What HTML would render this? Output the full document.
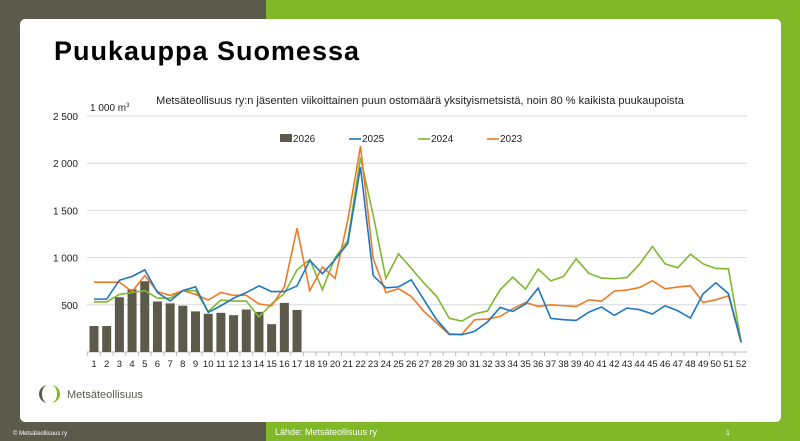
<!DOCTYPE html>
<html><head><meta charset="utf-8"><style>
body{margin:0;width:800px;height:441px;overflow:hidden;position:relative;font-family:"Liberation Sans",sans-serif;background:#5b5a4b}
#g{position:absolute;left:266px;top:0;width:534px;height:441px;background:#80b828}
#card{position:absolute;left:20px;top:19px;width:761px;height:403px;background:#fff;border-radius:5px}
svg{position:absolute;left:0;top:0}
</style></head><body>
<div id="g"></div><div id="card"></div>
<svg width="800" height="441" id="s" font-family="Liberation Sans, sans-serif">
<text x="54" y="60" font-size="27" font-weight="800" textLength="305" fill="#000">Puukauppa Suomessa</text>
<text x="420" y="104" font-size="11" text-anchor="middle" fill="#222">Metsäteollisuus ry:n jäsenten viikoittainen puun ostomäärä yksityismetsistä, noin 80 % kaikista puukaupoista</text>
<text x="90" y="111" font-size="10" fill="#222">1 000 m<tspan font-size="6" dy="-4">3</tspan></text>
<g id="grid"></g>
<g id="bars" fill="#5b5a4b"></g>
<g id="lines" fill="none" stroke-width="1.6"></g>
<g font-size="10" fill="#222">
<rect x="280" y="134" width="12" height="8" fill="#5b5a4b"/><text x="293" y="142">2026</text>
<line x1="349" y1="139" x2="361" y2="139" stroke="#1f77c0" stroke-width="1.6"/><text x="362" y="142">2025</text>
<line x1="418" y1="139" x2="430" y2="139" stroke="#7fb830" stroke-width="1.6"/><text x="431" y="142">2024</text>
<line x1="487" y1="139" x2="499" y2="139" stroke="#ee7a24" stroke-width="1.6"/><text x="500" y="142">2023</text>
</g>
<g transform="translate(40,394)">
<path d="M8,-9 A9,9 0 0 0 8,9 A6,9 0 0 1 8,-9Z" fill="#5b5a4b"/>
<path d="M11,-9 A9,9 0 0 1 11,9 A6,9 0 0 0 11,-9Z" fill="#80b828"/>
</g>
<text x="67" y="398" font-size="11" fill="#5b5a4b">Metsäteollisuus</text>
<text x="13" y="435" font-size="6" fill="#fff">© Metsäteollisuus ry</text>
<text x="275" y="435" font-size="9" fill="#fff">Lähde: Metsäteollisuus ry</text>
<text x="726" y="435" font-size="7" fill="#fff">1</text>
</svg>
<script>
var X=w=>94+(w-1)*12.69,Y=v=>352-v*0.0944;
var g='';
[0,500,1000,1500,2000,2500].forEach(v=>{g+=`<line x1="87" x2="747" y1="${Y(v)}" y2="${Y(v)}" stroke="${v?'#d9d9d9':'#bbb'}"/>`;
if(v)g+=`<text x="78" y="${Y(v)+4}" font-size="10" text-anchor="end" fill="#222">${v.toString().replace(/(\d)(\d{3})$/,'$1 $2')}</text>`});
for(var w=1;w<=52;w++){g+=`<line x1="${X(w)-6.3}" x2="${X(w)-6.3}" y1="352" y2="356" stroke="#bbb"/><text x="${X(w)}" y="367" font-size="9.5" text-anchor="middle" fill="#222">${w}</text>`}
document.getElementById('grid').innerHTML=g;
var b=[275,275,580,665,750,535,515,490,430,405,415,390,450,425,295,520,445],h='';
b.forEach((v,i)=>h+=`<rect x="${X(i+1)-4.5}" y="${Y(v)}" width="9" height="${v*0.0944}"/>`);
document.getElementById('bars').innerHTML=h;
var d={
'#7fb830':[530,530,610,630,650,570,570,650,650,430,550,540,540,370,510,620,870,980,660,1000,1180,2060,1450,780,1040,888,730,589,356,328,405,434,659,793,666,878,754,800,987,832,783,776,790,931,1118,934,892,1037,934,885,881,102],
'#ee7a24':[740,740,740,640,810,640,600,650,610,550,630,600,600,510,490,690,1310,650,900,780,1400,2180,990,630,670,589,430,307,183,190,342,349,377,458,525,483,500,490,483,553,539,645,656,684,754,670,688,702,525,553,596,100],
'#1f77c0':[560,560,760,800,870,630,540,650,690,420,490,570,630,700,640,640,700,970,830,980,1150,1960,810,680,690,765,553,342,190,183,219,317,472,430,508,677,356,342,335,423,476,388,465,448,402,490,437,360,617,733,617,102]};
var l='';for(var c in d){l+=`<polyline stroke="${c}" points="${d[c].map((v,i)=>X(i+1)+','+Y(v)).join(' ')}"/>`}
document.getElementById('lines').innerHTML=l;
</script>
</body></html>
